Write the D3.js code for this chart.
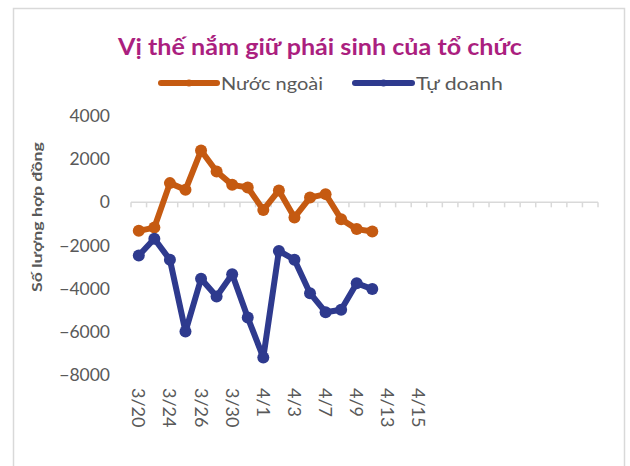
<!DOCTYPE html>
<html>
<head>
<meta charset="utf-8">
<script src="https://cdn.jsdelivr.net/npm/d3@7"></script>
<style>
  html, body { margin: 0; padding: 0; background: #fff; }
  svg { display: block; font-family: Lato, "Open Sans", sans-serif; }
</style>
</head>
<body>
<svg id="chart" width="630" height="466"></svg>
<script>
// category labels (every trading day); trailing blanks keep the empty slots of the axis
const dates = ["3/20", "3/23", "3/24", "3/25", "3/26", "3/27", "3/30", "3/31", "4/1", "4/2",
  "4/3", "4/6", "4/7", "4/8", "4/9", "4/10", "4/13", "4/14", "4/15",
  "", "", "", "", "", "", "", "", "", "", ""];
const nuocNgoai = [-1320, -1170, 890, 580, 2400, 1430, 810, 690, -350, 550, -700, 220, 380, -780, -1240, -1350];
const tuDoanh = [-2460, -1690, -2660, -5990, -3540, -4360, -3330, -5340, -7190, -2250, -2660, -4210, -5090, -4980, -3750, -4020];
const yTicks = [4000, 2000, 0, -2000, -4000, -6000, -8000];

const seriesList = [
  { name: "Nước ngoài", values: nuocNgoai, color: "#C55A11" },
  { name: "Tự doanh", values: tuDoanh, color: "#2E3A8E" }
];

const svg = d3.select("#chart");
const grey = "#595959";

// chart frame
svg.append("rect")
  .attr("x", 13.5).attr("y", 8.5)
  .attr("width", 611).attr("height", 470)
  .attr("fill", "none").attr("stroke", "#d9d9d9").attr("stroke-width", 1.5);

svg.append("text")
  .attr("x", 320).attr("y", 55)
  .attr("text-anchor", "middle")
  .attr("font-size", 22).attr("font-weight", "bold")
  .attr("fill", "#AB1F7F")
  .attr("textLength", 404).attr("lengthAdjust", "spacingAndGlyphs")
  .text("Vị thế nắm giữ phái sinh của tổ chức");

const x = d3.scaleBand().domain(d3.range(dates.length)).range([131, 598]).padding(0);
const y = d3.scaleLinear().domain([-8000, 4000]).range([375, 116]);

// y labels, no axis line
const yAxis = svg.append("g")
  .attr("transform", "translate(110,0)")
  .call(d3.axisLeft(y).tickValues(yTicks).tickSize(0).tickPadding(0).tickFormat(d3.format("d")));
yAxis.select(".domain").remove();
yAxis.selectAll("text")
  .attr("font-family", "Lato, sans-serif")
  .attr("font-size", 17.5).attr("fill", grey);

svg.append("text")
  .attr("transform", "translate(42,217) rotate(-90)")
  .attr("text-anchor", "middle")
  .attr("font-size", 14).attr("font-weight", "bold").attr("fill", grey)
  .attr("textLength", 150).attr("lengthAdjust", "spacingAndGlyphs")
  .text("Số lượng hợp đồng");

// horizontal axis at zero with ticks at category boundaries
const axisG = svg.append("g");
axisG.append("line")
  .attr("x1", x.range()[0]).attr("x2", x.range()[1])
  .attr("y1", y(0)).attr("y2", y(0))
  .attr("stroke", "#d9d9d9").attr("stroke-width", 1.5);
axisG.selectAll(".tk")
  .data(d3.range(dates.length + 1))
  .join("line")
  .attr("x1", i => x.range()[0] + i * x.bandwidth())
  .attr("x2", i => x.range()[0] + i * x.bandwidth())
  .attr("y1", y(0)).attr("y2", y(0) + 5)
  .attr("stroke", "#d9d9d9").attr("stroke-width", 1.5);

// category labels, every second one, rotated
svg.append("g").selectAll("text")
  .data(dates.map((d, i) => ({ d, i })).filter(o => o.i % 2 === 0 && o.d !== ""))
  .join("text")
  .attr("transform", o => `translate(${x(o.i) + x.bandwidth() / 2 - 6.5},388) rotate(90)`)
  .attr("font-size", 18).attr("fill", grey)
  .text(o => o.d);

const line = d3.line()
  .x((v, i) => x(i) + x.bandwidth() / 2)
  .y(v => y(v));

for (const s of seriesList) {
  const g = svg.append("g");
  g.append("path")
    .attr("d", line(s.values))
    .attr("fill", "none").attr("stroke", s.color)
    .attr("stroke-width", 6).attr("stroke-linejoin", "round");
  g.selectAll("circle")
    .data(s.values)
    .join("circle")
    .attr("cx", (v, i) => x(i) + x.bandwidth() / 2)
    .attr("cy", v => y(v))
    .attr("r", 6)
    .attr("fill", s.color);
}

// legend
const legendPos = [{ x1: 161, x2: 217, w: 102 }, { x1: 355, x2: 412, w: 87 }];
seriesList.forEach((s, i) => {
  const p = legendPos[i];
  const g = svg.append("g");
  g.append("line")
    .attr("x1", p.x1).attr("x2", p.x2).attr("y1", 83).attr("y2", 83)
    .attr("stroke", s.color).attr("stroke-width", 6).attr("stroke-linecap", "round");
  g.append("circle").attr("cx", (p.x1 + p.x2) / 2).attr("cy", 83).attr("r", 3.5).attr("fill", s.color);
  g.append("text")
    .attr("x", p.x2 + 4).attr("y", 90)
    .attr("font-size", 18).attr("fill", grey)
    .attr("textLength", p.w).attr("lengthAdjust", "spacingAndGlyphs")
    .text(s.name);
});
</script>
</body>
</html>
